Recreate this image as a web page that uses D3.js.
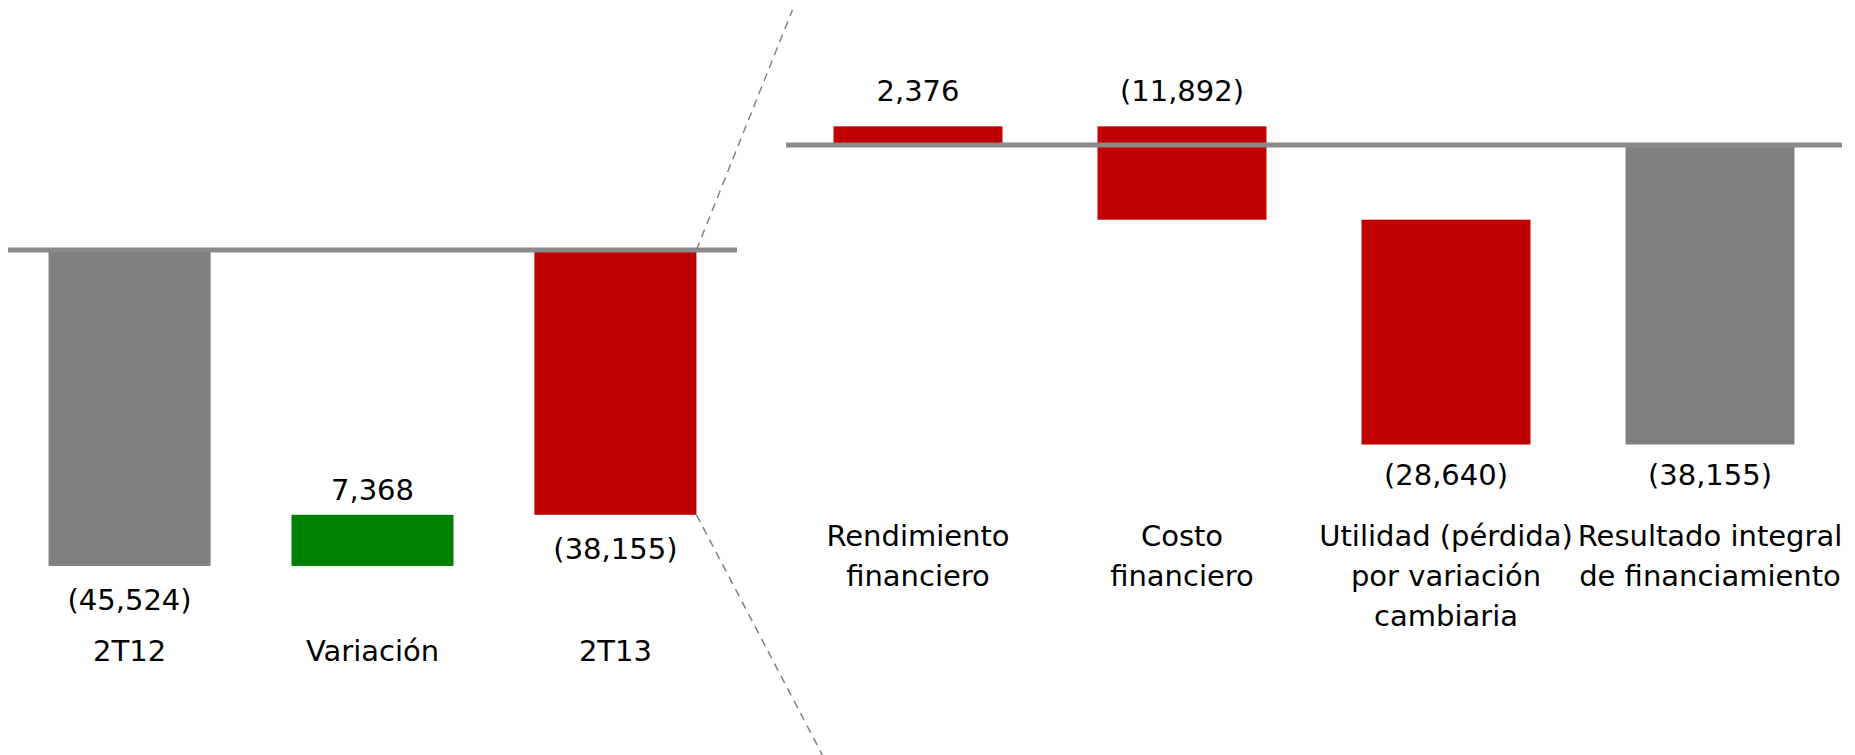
<!DOCTYPE html>
<html>
    <head>
        <meta charset="UTF-8">
        <script src="https://d3js.org/d3.v7.min.js"></script>

        <style>
            body {
                margin: 0;
                background: white;
                font-family: "DejaVu Sans", Verdana, sans-serif;
            }

            .label {
                font-size: 29px;
                fill: black;
                text-anchor: middle;
            }

            .zero-line {
                stroke: #8a8a8a;
                stroke-width: 5px;
            }

            .connector {
                fill: none;
                stroke: #808080;
                stroke-width: 1.5px;
                stroke-dasharray: 8 6;
            }
        </style>
    </head>
    <body>
        <svg></svg>

        <script>

            // left panel: quarter comparison
            const leftCats = ["2T12", "Variación", "2T13"];
            const leftValues = [-45524, 7368, -38155];
            const leftTypes = ["total", "delta", "total"];
            const leftColors = ["#808080", "#008000", "#c00000"];
            const leftLabelPos = ["below", "above", "below"];

            // right panel: breakdown of 2T13
            const rightCats = [
                ["Rendimiento", "financiero"],
                ["Costo", "financiero"],
                ["Utilidad (pérdida)", "por variación", "cambiaria"],
                ["Resultado integral", "de financiamiento"]
            ];
            const rightValues = [2376, -11892, -28640, -38155];
            const rightTypes = ["delta", "delta", "delta", "total"];
            const rightColors = ["#c00000", "#c00000", "#c00000", "#808080"];
            const rightLabelPos = ["above", "above", "below", "below"];

            const width = 1855, height = 755;

            const svg = d3.select("svg")
                .attr("width", width)
                .attr("height", height);

            function fmt (v) {
                let s = d3.format(",")(Math.abs(v));
                return v < 0 ? "(" + s + ")" : s;
            }

            // turn values into floating bars
            function buildSteps (cats, values, types, colors, pos) {
                let run = 0;
                return cats.map((c, i) => {
                    let start, end;
                    if (types[i] == "total") {
                        start = 0;
                        end = values[i];
                        run = values[i];
                    } else {
                        start = run;
                        end = run + values[i];
                        run = end;
                    }
                    return {
                        key: i,
                        cat: c,
                        value: values[i],
                        lo: Math.min(start, end),
                        hi: Math.max(start, end),
                        color: colors[i],
                        pos: pos[i]
                    };
                });
            }

            function drawPanel (g, data, x, y, opts) {
                // bars
                g.append("g")
                    .selectAll("rect")
                    .data(data)
                    .join("rect")
                        .attr("x", d => x(d.key))
                        .attr("width", x.bandwidth())
                        .attr("y", d => y(d.hi))
                        .attr("height", d => y(d.lo) - y(d.hi))
                        .attr("fill", d => d.color);

                // zero line over bars
                g.append("line")
                    .attr("class", "zero-line")
                    .attr("x1", x.range()[0])
                    .attr("x2", x.range()[1])
                    .attr("y1", y(0))
                    .attr("y2", y(0));

                // value labels
                g.append("g")
                    .selectAll("text")
                    .data(data)
                    .join("text")
                        .attr("class", "label")
                        .attr("x", d => x(d.key) + x.bandwidth() / 2)
                        .attr("y", d => d.pos == "above" ? y(d.hi) - opts.above : y(d.lo) + opts.below)
                        .text(d => fmt(d.value));

                // category labels
                let cats = g.append("g")
                    .selectAll("text")
                    .data(data)
                    .join("text")
                        .attr("class", "label")
                        .attr("y", opts.catY);

                cats.selectAll("tspan")
                    .data(d => (Array.isArray(d.cat) ? d.cat : [d.cat]).map(t => ({ t: t, d: d })))
                    .join("tspan")
                        .attr("x", o => x(o.d.key) + x.bandwidth() / 2)
                        .attr("dy", (o, i) => i == 0 ? 0 : 40)
                        .text(o => o.t);
            }

            // left panel
            const leftData = buildSteps(leftCats, leftValues, leftTypes, leftColors, leftLabelPos);

            const xL = d3.scaleBand()
                .domain(leftData.map(d => d.key))
                .range([8, 737])
                .paddingInner(0.333)
                .paddingOuter(0.167);

            const yL = d3.scaleLinear()
                .domain([-50000, 0])
                .range([597, 250]);

            drawPanel(svg.append("g"), leftData, xL, yL, { above: 15, below: 44, catY: 661 });

            // right panel
            const rightData = buildSteps(rightCats, rightValues, rightTypes, rightColors, rightLabelPos);

            const xR = d3.scaleBand()
                .domain(rightData.map(d => d.key))
                .range([786, 1842])
                .paddingInner(0.36)
                .paddingOuter(0.18);

            const yR = d3.scaleLinear()
                .domain([-40000, 5000])
                .range([459, 105.75]);

            drawPanel(svg.append("g"), rightData, xR, yR, { above: 25, below: 40, catY: 546 });

            // dashed connectors from the 2T13 bar out to the breakdown
            const last = leftData[leftData.length - 1];
            const cx = xL(last.key) + xL.bandwidth();

            svg.append("line")
                .attr("class", "connector")
                .attr("x1", cx).attr("y1", yL(0))
                .attr("x2", cx + 96).attr("y2", 10);

            svg.append("line")
                .attr("class", "connector")
                .attr("x1", cx).attr("y1", yL(last.lo))
                .attr("x2", cx + 126).attr("y2", height);

        </script>
    </body>
</html>
